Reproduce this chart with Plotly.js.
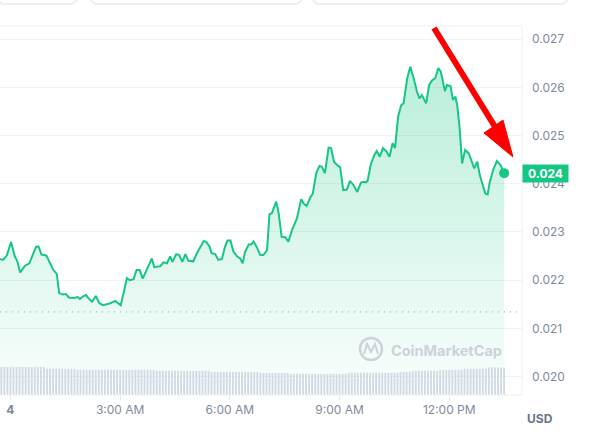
<!DOCTYPE html>
<html><head><meta charset="utf-8">
<script src="https://cdn.plot.ly/plotly-3.0.1.min.js"></script>
<style>html,body{margin:0;padding:0;background:#fff}#chart{width:607px;height:438px}</style>
</head><body><div id="chart"></div>
<script>
// minutes since midnight (day 4)
const minutes = [-17,-12,-6,1,7,11,16,24,31,36,42,46,51,59,65,70,76,80,86,91,96,104,110,114,120,124,129,134,140,146,152,158,164,172,181,188,191,196,202,207,212,217,225,232,236,246,251,257,262,266,272,277,282,287,292,300,306,311,317,321,327,330,336,341,347,352,356,361,366,372,377,381,385,391,395,399,404,410,415,421,425,429,434,436,440,445,451,456,462,470,477,481,486,492,496,502,507,511,516,522,526,531,536,541,546,552,557,563,569,575,579,583,586,591,597,601,606,611,617,622,627,631,636,641,645,651,656,661,667,671,675,682,687,692,697,702,706,710,713,716,722,726,730,733,737,741,746,752,757,761,766,770,775,779,783,786,792,798,804,810];
const price = [0.02244,0.02242,0.02251,0.02279,0.02250,0.02240,0.02216,0.02230,0.02235,0.02249,0.02269,0.02270,0.02253,0.02251,0.02235,0.02222,0.02213,0.02173,0.02170,0.02171,0.02164,0.02163,0.02165,0.02161,0.02167,0.02169,0.02161,0.02155,0.02167,0.02152,0.02148,0.02150,0.02152,0.02157,0.02148,0.02186,0.02204,0.02200,0.02202,0.02221,0.02221,0.02203,0.02224,0.02245,0.02227,0.02229,0.02237,0.02235,0.02249,0.02238,0.02254,0.02252,0.02238,0.02254,0.02240,0.02239,0.02256,0.02269,0.02281,0.02280,0.02269,0.02256,0.02254,0.02242,0.02244,0.02269,0.02282,0.02282,0.02259,0.02249,0.02245,0.02235,0.02259,0.02274,0.02274,0.02280,0.02269,0.02252,0.02252,0.02262,0.02337,0.02339,0.02356,0.02363,0.02339,0.02290,0.02289,0.02280,0.02304,0.02328,0.02368,0.02359,0.02354,0.02372,0.02379,0.02423,0.02437,0.02435,0.02422,0.02475,0.02474,0.02445,0.02439,0.02434,0.02387,0.02388,0.02406,0.02397,0.02383,0.02402,0.02404,0.02403,0.02406,0.02439,0.02460,0.02468,0.02456,0.02474,0.02467,0.02456,0.02484,0.02474,0.02539,0.02563,0.02567,0.02619,0.02643,0.02622,0.02591,0.02577,0.02584,0.02567,0.02605,0.02615,0.02619,0.02640,0.02633,0.02608,0.02592,0.02605,0.02603,0.02574,0.02581,0.02563,0.02515,0.02442,0.02470,0.02463,0.02446,0.02432,0.02446,0.02418,0.02397,0.02380,0.02378,0.02401,0.02429,0.02447,0.02439,0.02422];

// volume bars, one every 5 minutes starting at -15
const volStartMinute = -15;
const volStepMinutes = 5;
const volume = [
13.9,13.9,13.9,13.9,13.9,13.9,13.9,13.9,13.9,13.9,13.9,13.9,13.9,13.9,13.9,
13.0,13.0,13.0,13.0,13.0,13.0,13.0,13.0,13.0,13.0,
12.5,12.5,12.5,12.5,12.5,12.5,12.5,12.5,12.5,12.5,12.5,12.5,12.5,12.5,12.5,12.5,12.5,12.5,12.5,12.5,12.5,12.5,12.5,12.5,12.5,12.5,
12.0,12.0,12.0,12.0,12.0,12.0,12.0,12.0,12.0,12.0,12.0,12.0,12.0,12.0,12.0,12.0,12.0,12.0,
11.5,11.5,11.5,11.5,11.5,11.5,11.5,11.5,11.5,11.5,11.5,11.5,11.5,11.5,11.5,11.5,
10.9,10.9,10.9,10.9,10.9,10.9,10.9,10.9,10.9,10.9,
10.5,10.5,10.5,10.5,10.5,10.5,10.5,10.5,10.5,10.5,10.5,10.5,10.5,10.5,10.5,10.5,10.5,10.5,10.5,
11.0,11.0,11.0,11.0,11.0,11.0,11.0,11.0,11.0,11.0,11.0,11.0,11.0,11.0,11.0,11.0,11.0,
11.5,11.5,11.5,11.5,
12.0,12.0,12.0,12.0,12.0,12.0,12.0,12.0,12.0,
12.5,12.5,12.5,12.5,12.5,12.5,12.5,12.5,
13.0,13.0,13.0,13.0,13.0,13.0,13.0,13.0,
13.6,13.6,13.6,13.6,13.6,13.6];

const openRef = 0.02134;
const xTickVals = [0,180,360,540,720];
const xTickText = ['<b>4</b>','3:00 AM','6:00 AM','9:00 AM','12:00 PM'];
const yTickVals = [0.020,0.021,0.022,0.023,0.024,0.025,0.026,0.027];
const yTickText = ['0.020','0.021','0.022','0.023','0.024','0.025','0.026','0.027'];

const W=607,H=438,M={l:0,r:85,t:26,b:43};
const PW=W-M.l-M.r, PH=H-M.t-M.b;
const px = x => (x-M.l)/PW;
const py = y => (H-M.b-y)/PH;
const P = pts => 'M '+pts.map(p=>px(p[0])+','+py(p[1])).join(' L ');

const volX = volume.map((_,i)=>volStartMinute+i*volStepMinutes);
const lastP = price[price.length-1];
const green = '#16C784';

const traces = [
  {type:'bar', x:volX, y:volume, yaxis:'y2', marker:{color:'#D3D9E4', line:{width:0}}, hoverinfo:'skip'},
  {type:'scatter', mode:'lines', x:minutes, y:price, line:{color:green,width:2}, fill:'tozeroy',
   fillgradient:{type:'vertical', start:0.0196, stop:0.0265,
     colorscale:[[0,'rgba(22,199,132,0.02)'],[1,'rgba(22,199,132,0.30)']]}, hoverinfo:'skip'},
  {type:'scatter', mode:'markers', x:[minutes[minutes.length-1]], y:[lastP], marker:{color:green,size:10}, hoverinfo:'skip'}
];

const shapes = [
  {type:'rect', xref:'paper', yref:'paper', x0:-0.02, x1:1, y0:0, y1:1, line:{color:'#ECEFF3',width:1}},
  {type:'line', xref:'paper', yref:'y', x0:0, x1:1, y0:openRef, y1:openRef, line:{color:'#9AA3B5',width:1,dash:'1px,5px'}},
  {type:'path', xref:'paper', yref:'paper', path:P([[-2,-12],[-2,0],[2,4],[72,4],[77,0],[77,-12]]), line:{color:'#ECEFF3',width:2}},
  {type:'path', xref:'paper', yref:'paper', path:P([[91,-12],[91,0],[95,4],[297,4],[302,0],[302,-12]]), line:{color:'#ECEFF3',width:2}},
  {type:'path', xref:'paper', yref:'paper', path:P([[313,-12],[313,0],[317,4],[563,4],[568,0],[568,-12]]), line:{color:'#ECEFF3',width:2}},
  {type:'circle', xref:'paper', yref:'paper', x0:px(360), x1:px(382), y0:py(360), y1:py(338), line:{color:'#CDD2DB',width:2.5}},
  {type:'path', xref:'paper', yref:'paper', path:P([[364,354],[367,344],[371,352],[375,344],[378,354]]), line:{color:'#CDD2DB',width:2}},
  {type:'line', xref:'paper', yref:'paper', x0:px(434), y0:py(28), x1:px(497), y1:py(130), line:{color:'#FF0000',width:6}},
  {type:'path', xref:'paper', yref:'paper', path:P([[484,133],[503,120],[513,157]])+' Z', fillcolor:'#FF0000', line:{color:'#FF0000',width:1}}
];

const annotations = [
  {xref:'paper', yref:'y', x:1, y:lastP, xanchor:'left', yanchor:'middle', text:'<b>'+lastP.toFixed(3)+'</b>',
   showarrow:false, bgcolor:green, font:{family:'Inter',size:12,color:'#fff'}, width:41, height:13, borderpad:2},
  {xref:'paper', yref:'paper', x:px(540), y:py(418), xanchor:'center', yanchor:'middle', text:'<b>USD</b>',
   showarrow:false, font:{family:'Inter',size:12,color:'#6A7489'}},
  {xref:'paper', yref:'paper', x:px(389), y:py(350), xanchor:'left', yanchor:'middle', text:'<b>CoinMarketCap</b>',
   showarrow:false, font:{family:'Inter',size:14.5,color:'#CDD2DB'}}
];

const layout = {
  width:W, height:H, margin:M, paper_bgcolor:'#fff', plot_bgcolor:'#fff', showlegend:false,
  bargap:0.4,
  xaxis:{range:[-17.1,839.3], tickvals:xTickVals, ticktext:xTickText, showgrid:false, zeroline:false,
    ticks:'outside', ticklen:4, tickcolor:'#E6E9EF', tickfont:{family:'Inter',size:12,color:'#808A9D'}, fixedrange:true},
  yaxis:{range:[0.019616,0.027274], side:'right', tickvals:yTickVals, ticktext:yTickText, showgrid:true, gridcolor:'#F0F2F5',
    zeroline:false, ticks:'', ticklabelstandoff:9, tickfont:{family:'Inter',size:12,color:'#808A9D'}},
  yaxis2:{range:[0,183], overlaying:'y', visible:false, showgrid:false},
  shapes, annotations, hovermode:false
};
Plotly.newPlot('chart', traces, layout, {staticPlot:true, displayModeBar:false});
</script></body></html>
